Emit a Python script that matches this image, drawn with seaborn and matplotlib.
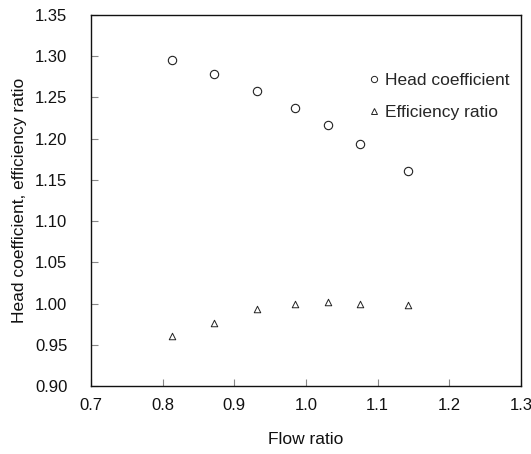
import matplotlib
matplotlib.use("Agg")
import matplotlib.pyplot as plt
import seaborn as sns
import pandas as pd
from matplotlib.lines import Line2D

flow_ratio = [0.813, 0.872, 0.931, 0.985, 1.031, 1.075, 1.143]
head_coefficient = [1.296, 1.278, 1.258, 1.237, 1.216, 1.193, 1.161]
efficiency_ratio = [0.961, 0.976, 0.993, 0.999, 1.002, 1.000, 0.998]
x_ticks = [0.7, 0.8, 0.9, 1.0, 1.1, 1.2, 1.3]
y_ticks = [0.90, 0.95, 1.00, 1.05, 1.10, 1.15, 1.20, 1.25, 1.30, 1.35]

sns.set_style("white")
plt.rcParams['font.family'] = ['Liberation Sans', 'DejaVu Sans']

df_head = pd.DataFrame({"x": flow_ratio, "y": head_coefficient})
df_eff = pd.DataFrame({"x": flow_ratio, "y": efficiency_ratio})

fig = plt.figure(figsize=(5.31, 4.54), dpi=100)
ax = fig.add_axes([91 / 531, 1 - 386 / 454, 430 / 531, 371 / 454])

sns.scatterplot(data=df_head, x="x", y="y", ax=ax, marker="o", s=36,
                facecolor="white", edgecolor="#222222", linewidth=0.8)
sns.scatterplot(data=df_eff, x="x", y="y", ax=ax, marker="^", s=22,
                facecolor="white", edgecolor="#222222", linewidth=0.7)

ax.set_xlim(0.7, 1.3)
ax.set_ylim(0.90, 1.35)
ax.set_xticks(x_ticks)
ax.set_yticks(y_ticks)
ax.set_xticklabels([f"{v:.1f}" for v in x_ticks], fontsize=12)
ax.set_yticklabels([f"{v:.2f}" for v in y_ticks], fontsize=12)
ax.tick_params(axis="both", direction="in", length=5, width=0.8, color="#888888",
               labelcolor="#111111", bottom=True, left=True)
ax.tick_params(axis="y", pad=17)
ax.tick_params(axis="x", pad=9)
for s in ax.spines.values():
    s.set_color("#111111")
    s.set_linewidth(1.0)

ax.set_xlabel("Flow ratio", fontsize=12.5, labelpad=13, color="#111111")
ax.set_ylabel("Head coefficient, efficiency ratio", fontsize=12.5, labelpad=6, color="#111111")

handles = [
    Line2D([], [], linestyle="none", marker="o", markersize=4.5, markerfacecolor="white",
           markeredgecolor="#222222", markeredgewidth=0.7),
    Line2D([], [], linestyle="none", marker="^", markersize=4, markerfacecolor="white",
           markeredgecolor="#222222", markeredgewidth=0.7),
]
ax.legend(handles, ["Head coefficient", "Efficiency ratio"], loc="upper right",
          bbox_to_anchor=(1.01, 0.885), frameon=False, fontsize=12.5, handlelength=0.6,
          handletextpad=0.35, labelspacing=0.95)

fig.savefig("out.png", dpi=100)
